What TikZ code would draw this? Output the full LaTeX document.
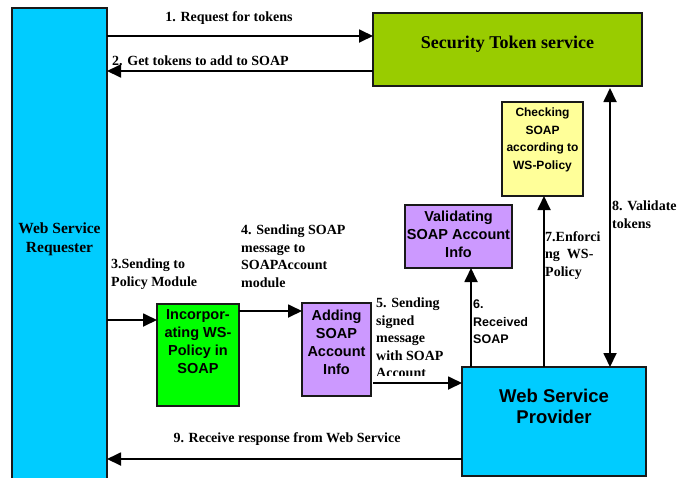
\documentclass[tikz,border=0pt]{standalone}
\usepackage{fontspec}
\setmainfont{Liberation Serif}
\setsansfont{Liberation Sans}
\usetikzlibrary{arrows.meta}
\definecolor{cyanbox}{HTML}{00CCFF}
\definecolor{olivebox}{HTML}{99CC00}
\definecolor{yellowbox}{HTML}{FFFF99}
\definecolor{purplebox}{HTML}{CC99FF}
\definecolor{greenbox}{HTML}{00FF00}
\begin{document}
\begin{tikzpicture}[x=1pt,y=-1pt,
  box/.style={draw=black!90, line width=1.6pt, inner sep=0pt, outer sep=0pt, anchor=north west},
  arr/.style={line width=1.8pt, -{Triangle[length=14pt,width=13pt]}},
  dbl/.style={line width=1.8pt, {Triangle[length=14pt,width=13pt]}-{Triangle[length=14pt,width=13pt]}},
  lbl/.style={font=\bfseries\fontsize{14}{17.5}\selectfont, align=left, inner sep=0pt, anchor=north west},
  boxtxt/.style={font=\sffamily\bfseries\fontsize{14.5}{18}\selectfont, align=center, inner sep=0pt, anchor=north},
  smalltxt/.style={font=\sffamily\bfseries\fontsize{12}{17.7}\selectfont, align=center, inner sep=0pt, anchor=north},
  sertxt/.style={font=\bfseries, align=center, inner sep=0pt, anchor=north}]
\useasboundingbox (0,0) rectangle (692,477);
\fill[white] (0,0) rectangle (692,477);

% boxes
\node[box, fill=cyanbox, minimum width=95pt, minimum height=474pt] (wsr) at (12,8) {};
\node[box, fill=olivebox, minimum width=269pt, minimum height=73pt] (sts) at (373,13) {};
\node[box, fill=yellowbox, minimum width=81pt, minimum height=94pt] (chk) at (502,102) {};
\node[box, fill=purplebox, minimum width=107pt, minimum height=63pt] (val) at (405,205) {};
\node[box, fill=greenbox, minimum width=82pt, minimum height=102pt] (inc) at (157,304) {};
\node[box, fill=purplebox, minimum width=69pt, minimum height=93pt] (add) at (302,303) {};
\node[box, fill=cyanbox, minimum width=184pt, minimum height=109pt] (wsp) at (462,367) {};

% box texts
\node[sertxt, font=\bfseries\fontsize{15.5}{19}\selectfont] (wsrt) at (59.5,222.4) {Web Service\\Requester};
\node[sertxt, font=\bfseries\fontsize{18}{22}\selectfont] (stst) at (507.5,35.5) {Security Token service};
\node[smalltxt] (chkt) at (542.5,107.6) {Checking\\SOAP\\according to\\WS-Policy};
\node[boxtxt] (valt) at (458.5,210.6) {Validating\\SOAP Account\\Info};
\node[boxtxt] (inct) at (198,309.6) {Incorpor-\\ating WS-\\Policy in\\SOAP};
\node[boxtxt] (addt) at (336.5,309.6) {Adding\\SOAP\\Account\\Info};
\node[boxtxt, font=\sffamily\bfseries\fontsize{18.5}{21}\selectfont] (wspt) at (554,389.2) {Web Service\\Provider};

% connectors
\draw[arr] ([yshift=-23pt]sts.north west -| wsr.east) -- ([yshift=-23pt]sts.north west);
\draw[arr] ([yshift=15pt]sts.south west) -- ([yshift=15pt]sts.south west -| wsr.east);
\draw[arr] ([yshift=-16pt]inc.north west -| wsr.east) -- ([yshift=-16pt]inc.north west);
\draw[arr] ([yshift=-7pt]inc.north east) -- ([yshift=-7pt]inc.north east -| add.west);
\draw[arr] ([yshift=-80pt,xshift=2pt]add.north east) -- ([yshift=-80pt]add.north east -| wsp.west);
\draw[arr] ([xshift=9pt]wsp.north west) -- ([xshift=9pt]wsp.north west |- val.south);
\draw[arr] ([xshift=1.5pt]chk.south |- wsp.north) -- ([xshift=1.5pt]chk.south);
\draw[dbl] ([xshift=-32pt,yshift=-2pt]sts.south east) -- ([xshift=-32pt]sts.south east |- wsp.north);
\draw[arr] ([yshift=17pt]wsp.south west) -- ([yshift=17pt]wsp.south west -| wsr.east);

% labels
\node[lbl, anchor=north] (l1) at (229,11) {1. Request for tokens};
\node[lbl] (l2) at (112,56) {2. Get tokens to add to SOAP};
\node[lbl] (l3) at (111,259) {3.Sending to\\Policy Module};
\node[lbl] (l4) at (241,225) {4. Sending SOAP\\message to\\SOAPAccount\\module};
\begin{scope}
\clip (370,290) rectangle (460,375);
\node[lbl] (l5) at (376,298) {5. Sending\\signed\\message\\with SOAP\\Account};
\end{scope}
\node[lbl, font=\sffamily\bfseries\fontsize{12.5}{17.5}\selectfont] (l6) at (473,300) {6.\\Received\\SOAP};
\node[lbl] (l7) at (545,231) {7.Enforci\\ng\hspace{7pt}WS-\\Policy};
\node[lbl] (l8) at (612,201) {8. Validate\\tokens};
\node[lbl, anchor=north] (l9) at (287,432) {9. Receive response from Web Service};
\end{tikzpicture}
\end{document}
